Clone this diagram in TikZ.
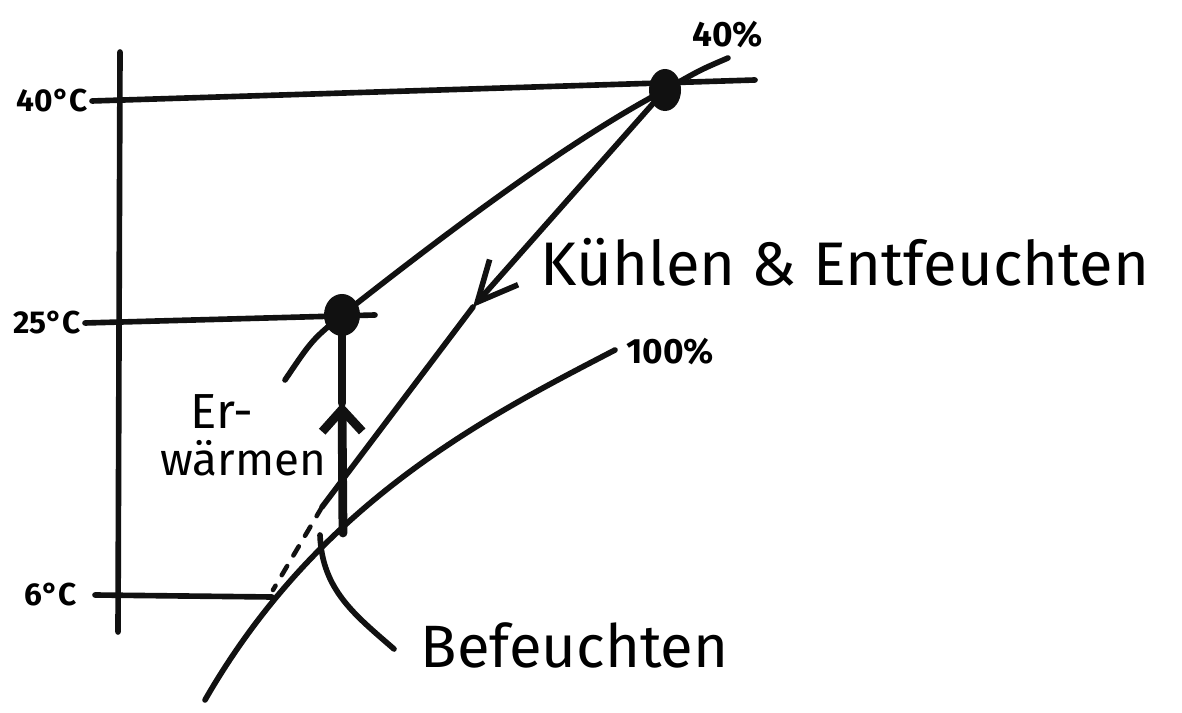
\documentclass[tikz,border=0pt]{standalone}
\usepackage{fontspec}
\setmainfont{Fira Sans}
\usepackage{tikz}
\usetikzlibrary{
  arrows.meta,
  shapes.geometric,
  positioning,
  calc
}
\definecolor{hxInk}{HTML}{111111}
\tikzset{
  hxline/.style={line width=1.6pt, draw=hxInk, line cap=round, line join=round},
  hxheat/.style={hxline, line width=2.5pt},
  hxdew/.style={hxline, line width=1.3pt, dash pattern=on 3pt off 3.5pt},
  hxdot/.style={ellipse, fill=hxInk, inner sep=0pt},
  hxtemp/.style={font=\fontsize{9}{11}\selectfont\bfseries, inner sep=1pt},
  hxrel/.style={font=\fontsize{10}{12}\selectfont\bfseries, inner sep=1pt},
  hxtag/.style={font=\fontsize{17.5}{20}\selectfont, inner sep=0pt},
  coolarrow/.style={-{Straight Barb[length=4mm, width=3.8mm]}},
  heatarrow/.style={-{Straight Barb[length=2.2mm, width=4mm]}}
}
\begin{document}
\begin{tikzpicture}[x=0.01cm, y=-0.01cm]
  \useasboundingbox (0,0) rectangle (1182,713);
  \fill[white] (0,0) rectangle (1182,713);
  % temperature axis and isotherms
  \coordinate (axtop) at (120,52);
  \coordinate (axbot) at (118,632);
  \coordinate (t40w) at (92,101);   \coordinate (t40e) at (755,80);
  \coordinate (t25w) at (85,323);   \coordinate (t25e) at (375,315);
  \coordinate (t6w)  at (95,595);   \coordinate (t6e)  at (272,597);
  \draw[hxline] (axtop) -- (axbot);
  \draw[hxline] (t40w) -- (t40e);
  \draw[hxline] (t25w) -- (t25e);
  \draw[hxline] (t6w) -- (t6e);
  \node[hxtemp, left=0pt of t40w] (l40) {40°C};
  \node[hxtemp, left=0pt of t25w] (l25) {25°C};
  \node[hxtemp, left=4pt of t6w] (l6) {6°C};
  % states
  \node[hxdot, minimum width=3.2mm, minimum height=4.2mm] (hot) at (665,90) {};
  \node[hxdot, minimum width=3.6mm, minimum height=4.2mm] (warm) at (342,315) {};
  \coordinate (kink) at (473,307);
  \coordinate (dew) at (322,507);
  \coordinate (dewlow) at (273,590);
  \coordinate (cold) at (343,533);
  \coordinate (heatmid) at (342,403);
  % relative humidity lines
  \coordinate (rh40a) at (285,380);
  \coordinate (rh40b) at (728,58);
  \coordinate (rh100a) at (615,350);
  \coordinate (rh100b) at (205,700);
  \draw[hxline] (rh40a) .. controls (312,340) .. (warm.center)
    .. controls (450,230) and (570,140) .. (hot.center)
    .. controls (700,70) .. (rh40b);
  \draw[hxline] (rh100a) .. controls (490,415) and (320,500) .. (rh100b);
  \node[hxrel, anchor=south west] (p40) at (688,52) {40\%};
  \node[hxrel, anchor=west] (p100) at (622,352) {100\%};
  % processes
  \draw[hxline, coolarrow] (hot.center) -- (kink);
  \draw[hxline] (kink) -- (dew);
  \draw[hxdew] (dew) -- (dewlow);
  \draw[hxheat, heatarrow] (cold) -- (heatmid);
  \draw[hxheat] (heatmid) -- (warm.center);
  \coordinate (humtop) at (320,535);
  \coordinate (humend) at (394,649);
  \draw[hxline] (humtop) .. controls (322,590) and (355,615) .. (humend);
  \node[hxtag, anchor=west] (cool) at (540,262) {Kühlen \& Entfeuchten};
  \node[hxtag, font=\fontsize{17}{20}\selectfont, anchor=west] (hum) at (420,645) {Befeuchten};
  \node[hxtag, font=\fontsize{14}{16}\selectfont, anchor=west] (heat1) at (190,412) {Er-};
  \node[hxtag, font=\fontsize{13}{16}\selectfont, anchor=west] (heat2) at (160,458) {wärmen};
\end{tikzpicture}
\end{document}
